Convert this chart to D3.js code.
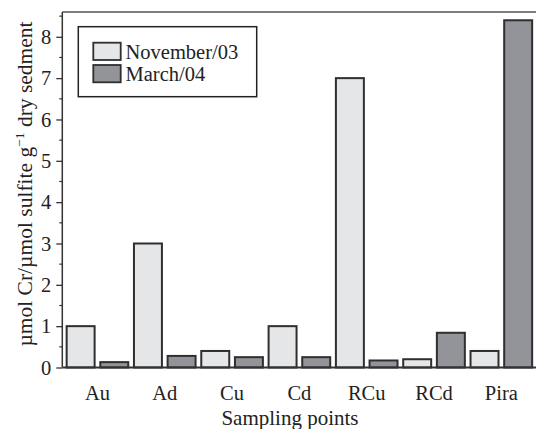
<!DOCTYPE html>
<html>
<head>
<meta charset="utf-8">
<script src="https://cdn.jsdelivr.net/npm/d3@7"></script>
<style>
  html, body { margin: 0; padding: 0; background: #fff; }
  svg { display: block; }
  text { font-family: "Liberation Serif", "Times New Roman", serif; fill: #222; }
</style>
</head>
<body>
<svg id="chart" width="536" height="429"></svg>
<script>
const categories = ["Au", "Ad", "Cu", "Cd", "RCu", "RCd", "Pira"];
const seriesNames = ["November/03", "March/04"];
const november03 = [1.0, 3.0, 0.4, 1.0, 7.0, 0.2, 0.4];
const march04 = [0.13, 0.28, 0.25, 0.25, 0.17, 0.84, 8.4];
const yTicks = [0, 1, 2, 3, 4, 5, 6, 7, 8];
const yMinorTicks = [0.5, 1.5, 2.5, 3.5, 4.5, 5.5, 6.5, 7.5, 8.5];
const colors = ["#e5e6e8", "#939499"];

const seriesValues = [november03, march04];
const data = categories.map((c, i) => ({cat: c, vals: seriesNames.map((s, k) => ({s, k, v: seriesValues[k][i]}))}));

const svg = d3.select("#chart");
const axisX = 62.3, topY = 12, bottomY = 367.5, rightX = 537;

const y = d3.scaleLinear().domain([0, 8.6]).range([bottomY, topY]);
const x0 = d3.scaleBand().domain(categories).range([63.8, 535]).padding(0);
const x1 = d3.scaleBand().domain(seriesNames).range([0, x0.bandwidth()]).paddingInner(0.169).paddingOuter(0.0845);

// frame top
svg.append("line").attr("x1", axisX).attr("x2", rightX).attr("y1", topY).attr("y2", topY)
  .attr("stroke", "#555").attr("stroke-width", 1.5);

// bars
const g = svg.append("g");
g.selectAll("g.grp").data(data).join("g").attr("class", "grp")
  .attr("transform", d => `translate(${x0(d.cat)},0)`)
  .selectAll("rect").data(d => d.vals).join("rect")
  .attr("x", d => x1(d.s))
  .attr("width", x1.bandwidth())
  .attr("y", d => y(d.v))
  .attr("height", d => y(0) - y(d.v))
  .attr("fill", d => colors[d.k])
  .attr("stroke", "#2f2f2f")
  .attr("stroke-width", 2);

// y axis
const yAxis = svg.append("g").attr("transform", `translate(${axisX},0)`)
  .call(d3.axisLeft(y).tickValues(yTicks).tickSize(6).tickPadding(5).tickFormat(d3.format("d")));
yAxis.select(".domain").remove();
yAxis.selectAll(".tick line").attr("stroke", "#333").attr("stroke-width", 1.3);
yAxis.selectAll("text").attr("font-size", 20.5).attr("fill", "#222")
  .attr("font-family", "'Liberation Serif', 'Times New Roman', serif");
svg.append("g").attr("transform", `translate(${axisX},0)`)
  .selectAll("line").data(yMinorTicks).join("line")
  .attr("x1", -3).attr("x2", 0).attr("y1", d => y(d)).attr("y2", d => y(d))
  .attr("stroke", "#333").attr("stroke-width", 1.2);
svg.append("line").attr("x1", axisX).attr("x2", axisX).attr("y1", topY).attr("y2", bottomY)
  .attr("stroke", "#333").attr("stroke-width", 1.5);

// x axis
const xAxis = svg.append("g").attr("transform", `translate(0,${bottomY})`)
  .call(d3.axisBottom(x0).tickSize(0).tickPadding(12));
xAxis.select(".domain").remove();
xAxis.selectAll("text").attr("font-size", 20.5).attr("fill", "#222").attr("dy", "0.98em")
  .attr("font-family", "'Liberation Serif', 'Times New Roman', serif");
svg.append("line").attr("x1", axisX).attr("x2", rightX).attr("y1", bottomY).attr("y2", bottomY)
  .attr("stroke", "#333").attr("stroke-width", 1.8);

// axis titles
svg.append("text").attr("x", 290).attr("y", 425).attr("text-anchor", "middle")
  .attr("font-size", 21).text("Sampling points");

const yt = svg.append("text").attr("transform", "translate(32,184) rotate(-90)")
  .attr("text-anchor", "middle").attr("font-size", 21.5);
yt.append("tspan").text("µmol Cr/µmol sulfite g");
yt.append("tspan").attr("font-size", 13.5).attr("dy", -8.5).text("−1");
yt.append("tspan").attr("dy", 8.5).text(" dry sedment");

// legend
const lg = svg.append("g");
lg.append("rect").attr("x", 78.3).attr("y", 26.7).attr("width", 178.4).attr("height", 70)
  .attr("fill", "#fff").attr("stroke", "#222").attr("stroke-width", 1.5);
seriesNames.forEach((s, k) => {
  lg.append("rect").attr("x", 93.3).attr("y", 42.7 + k * 22.3).attr("width", 27.4).attr("height", 17.3)
    .attr("fill", colors[k]).attr("stroke", "#2f2f2f").attr("stroke-width", 1.8);
  lg.append("text").attr("x", 125.5).attr("y", 58.5 + k * 22.3).attr("font-size", 20.5).text(s);
});
</script>
</body>
</html>
